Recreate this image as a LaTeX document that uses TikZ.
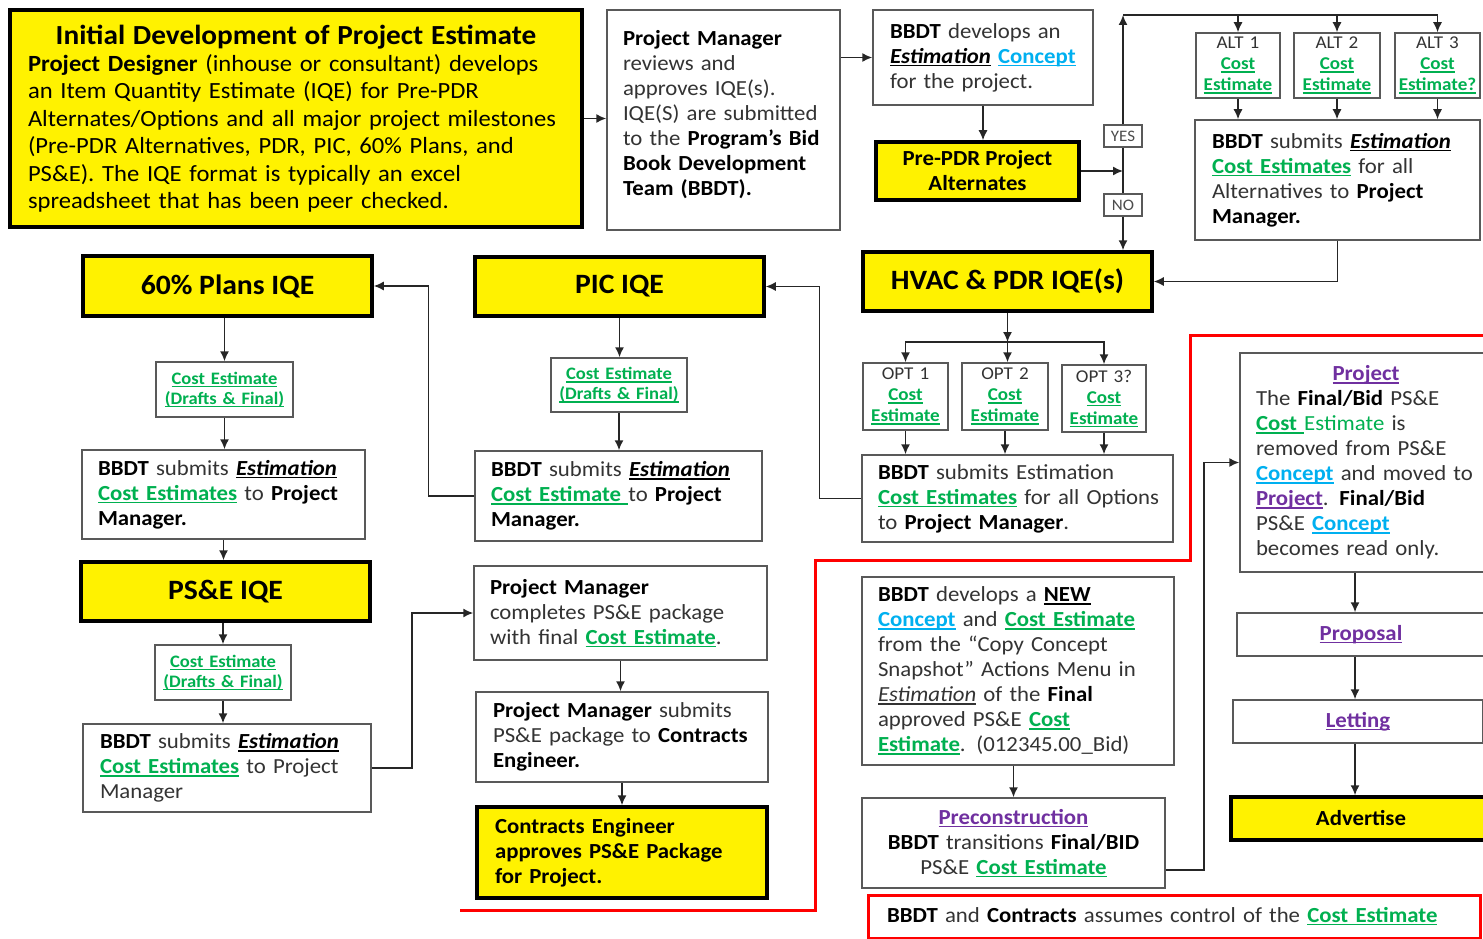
\documentclass[tikz,border=0pt]{standalone}
\usepackage{fontspec}
\setmainfont[FakeStretch=1.06]{Carlito}
\usepackage{tikz}
\usetikzlibrary{arrows.meta, positioning, calc}

\definecolor{linkgreen}{RGB}{0,176,80}
\definecolor{linkblue}{RGB}{0,176,240}
\definecolor{linkpurple}{RGB}{112,48,160}

% underline at a fixed depth
\newcommand{\ulx}[1]{\leavevmode\setbox0=\hbox{#1}\rlap{\rule[-2.8pt]{\wd0}{1.3pt}}\box0}
\newcommand{\bb}[1]{{\color{black}\bfseries #1}}
\newcommand{\cest}[1]{{\color{linkgreen}\bfseries\ulx{#1}}}
\newcommand{\ccon}[1]{{\color{linkblue}\bfseries\ulx{#1}}}
\newcommand{\cpur}[1]{{\color{linkpurple}\bfseries\ulx{#1}}}
\newcommand{\estim}{{\color{black}\bfseries\itshape\ulx{Estimation}}}

\tikzset{
    pbox/.style={draw=black!65, line width=1.5pt, fill=white, align=left,
        inner ysep=0pt, inner xsep=16pt, text=black!80,
        font=\fontsize{21.5}{25}\selectfont},
    ybox/.style={draw=black, line width=3.5pt, fill=yellow, align=center,
        inner sep=0pt, text=black, font=\bfseries\fontsize{28}{31}\selectfont},
    cebox/.style={pbox, align=center, inner xsep=2pt,
        font=\fontsize{17.5}{20}\selectfont},
    optbox/.style={pbox, align=center, inner xsep=1pt,
        font=\fontsize{18}{21}\selectfont},
    flag/.style={draw=black!65, line width=1.2pt, fill=white, text=black!70,
        font=\fontsize{16}{17}\selectfont, inner sep=1pt,
        minimum width=38pt, minimum height=22pt},
    link/.style={->, line width=1.5pt, draw=black!85},
    plain/.style={line width=1.5pt, draw=black!85},
    redline/.style={draw=red, line width=3pt}
}

\begin{document}
\begin{tikzpicture}[x=1pt, y=-1pt, >={Latex[length=10pt,width=9pt]}]
\useasboundingbox (0,0) rectangle (1483,939);
\clip (0,0) rectangle (1483,939);

% Top row
\node[ybox, align=left, text width=536pt, minimum height=217pt, inner xsep=18pt,
    font=\fontsize{23.2}{27.4}\selectfont] (init) at (296,118.5)
    {\makebox[\hsize][c]{\fontsize{27.6}{29}\selectfont\bfseries Initial Development of Project Estimate}\\
     \textbf{Project Designer} (inhouse or consultant) develops\\
     an Item Quantity Estimate (IQE) for Pre-PDR\\
     Alternates/Options and all major project milestones\\
     (Pre-PDR Alternatives, PDR, PIC, 60\% Plans, and\\
     PS\&E). The IQE format is typically an excel\\
     spreadsheet that has been peer checked.};

\node[pbox, text width=201pt, minimum height=220pt] (review) at (723.5,120)
    {\bb{Project Manager}\\
     reviews and\\
     approves IQE(s).\\
     IQE(S) are submitted\\
     to the \bb{Program’s Bid}\\
     \bb{Book Development}\\
     \bb{Team (BBDT).}\rule[-15pt]{0pt}{0pt}};

\node[pbox, text width=186pt, minimum height=95pt, inner xsep=17pt] (concept) at (983,57.5)
    {\bb{BBDT} develops an\\
     \estim\ \ccon{Concept}\\
     for the project.};

\node[ybox, minimum width=203pt, minimum height=58pt,
    font=\bfseries\fontsize{21.5}{25}\selectfont] (prepdr) at (977.5,171)
    {Pre-PDR Project\\Alternates};

% Yes / no branch
\coordinate (jn) at (1123,171);
\coordinate (top) at (1123,15);
\node[flag] (yes) at (1123,136) {YES};
\node[flag] (no) at (1123,205) {NO};

% Alternates
\node[optbox, text width=82pt, minimum height=65pt] (alt1) at (1238,65.5)
    {ALT 1\\\cest{Cost}\\\cest{Estimate}};
\node[optbox, text width=84pt, minimum height=65pt] (alt2) at (1337,65.5)
    {ALT 2\\\cest{Cost}\\\cest{Estimate}};
\node[optbox, text width=83pt, minimum height=65pt] (alt3) at (1437.5,65.5)
    {ALT 3\\\cest{Cost}\\\cest{Estimate?}};

\node[pbox, text width=251pt, minimum height=120pt, inner xsep=17pt] (altsub) at (1337.5,180)
    {\bb{BBDT} submits \estim\\
     \cest{Cost Estimates} for all\\
     Alternatives to \bb{Project}\\
     \bb{Manager.}};

% HVAC and options
\node[ybox, minimum width=289pt, minimum height=59pt] (hvac) at (1007.5,281.5)
    {HVAC \& PDR IQE(s)};
\coordinate (obar) at (1007.5,342);

\node[optbox, text width=83pt, minimum height=67pt] (opt1) at (905.5,396.5)
    {OPT 1\\\cest{Cost}\\\cest{Estimate}};
\node[optbox, text width=84pt, minimum height=67pt] (opt2) at (1005,396.5)
    {OPT 2\\\cest{Cost}\\\cest{Estimate}};
\node[optbox, text width=82pt, minimum height=67pt] (opt3) at (1104,398.5)
    {OPT 3?\\\cest{Cost}\\\cest{Estimate}};

\node[pbox, text width=279pt, minimum height=87pt] (optsub) at (1017.5,498.5)
    {\bb{BBDT} submits Estimation\\
     \mbox{\cest{Cost Estimates} for all Options}\\
     to \bb{Project Manager}.};

% PIC column
\node[ybox, minimum width=289pt, minimum height=59pt] (pic) at (619.5,286.5) {PIC IQE};
\node[cebox, text width=132pt, minimum height=54pt] (picce) at (619,385)
    {\cest{Cost Estimate}\\\cest{(Drafts \& Final)}};
\node[pbox, text width=255pt, minimum height=90pt] (picsub) at (618.5,496)
    {\bb{BBDT} submits \estim\\
     \cest{Cost Estimate\ }to \bb{Project}\\
     \bb{Manager.}};

% 60% plans column
\node[ybox, minimum width=289pt, minimum height=60pt] (plans) at (227.5,286) {60\% Plans IQE};
\node[cebox, text width=133pt, minimum height=55pt] (plansce) at (224.5,389.5)
    {\cest{Cost Estimate}\\\cest{(Drafts \& Final)}};
\node[pbox, text width=251pt, minimum height=89pt] (plansub) at (223.5,494.5)
    {\bb{BBDT} submits \estim\\
     \cest{Cost Estimates} to \bb{Project}\\
     \bb{Manager.}};

% PS&E column
\node[ybox, minimum width=289pt, minimum height=59pt] (pse) at (225.5,591.5) {PS\&E IQE};
\node[cebox, text width=132pt, minimum height=55pt] (psece) at (223,672.5)
    {\cest{Cost Estimate}\\\cest{(Drafts \& Final)}};
\node[pbox, text width=254pt, minimum height=88pt, inner xsep=17pt] (psesub) at (227,768)
    {\bb{BBDT} submits \estim\\
     \cest{Cost Estimates} to Project\\
     Manager};

% Package to contracts
\node[pbox, text width=261pt, minimum height=94pt] (pmfinal) at (620.5,613)
    {\bb{Project Manager}\\
     completes PS\&E package\\
     with final \cest{Cost Estimate}.};
\node[pbox, text width=258pt, minimum height=90pt, inner xsep=17pt] (pmsubmit) at (622,737)
    {\bb{Project Manager} submits\\
     PS\&E package to \bb{Contracts}\\
     \bb{Engineer.}};
\node[ybox, align=left, text width=254pt, minimum height=91pt, inner xsep=18pt,
    font=\bfseries\fontsize{21.5}{25}\selectfont] (contracts) at (622,852.5)
    {Contracts Engineer\\
     approves PS\&E Package\\
     for Project.};

% Preconstruction
\node[pbox, text width=280pt, minimum height=188pt] (newcon) at (1018,671)
    {\bb{BBDT} develops a \bb{\ulx{NEW}}\\
     \ccon{Concept} and \cest{Cost Estimate}\\
     from the “Copy Concept\\
     Snapshot” Actions Menu in\\
     {\itshape\ulx{Estimation}} of the \bb{Final}\\
     approved PS\&E \cest{Cost}\\
     \cest{Estimate}. (012345.00\_Bid)};
\node[pbox, align=center, text width=271pt, minimum height=90pt] (precon) at (1013.5,843)
    {\cpur{Preconstruction}\\
     \bb{BBDT} transitions \bb{Final/BID}\\
     PS\&E \cest{Cost Estimate}};

% Right column
\node[pbox, text width=220pt, minimum height=219pt] (project) at (1366,462.5)
    {\makebox[\hsize][c]{\cpur{Project}}\\
     The \bb{Final/Bid} PS\&E\\
     \cest{Cost\ }{\color{linkgreen}Estimate} is\\
     removed from PS\&E\\
     \ccon{Concept} and moved to\\
     \cpur{Project}. \bb{Final/Bid}\\
     PS\&E \ccon{Concept}\\
     becomes read only.};
\node[pbox, align=center, minimum width=248pt, minimum height=43pt] (proposal) at (1361,634.5)
    {\cpur{Proposal}};
\node[pbox, align=center, minimum width=250pt, minimum height=43pt] (letting) at (1358,721.5)
    {\cpur{Letting}};
\node[ybox, minimum width=260pt, minimum height=43pt,
    font=\bfseries\fontsize{21.5}{25}\selectfont] (advert) at (1361,818.5) {Advertise};
\coordinate (rcol) at (1355,0);

\node[pbox, draw=red, line width=3pt, text width=574pt, minimum height=43pt, inner xsep=19pt] (control)
    at (1174,916.5)
    {\bb{BBDT} and \bb{Contracts} assumes control of the \cest{Cost Estimate}};

% Connectors
\draw[link] (init.east) -- (init.east -| review.west);
\draw[link] (concept.west -| review.east) -- (concept.west);
\draw[link] (concept.south) -- (concept.south |- prepdr.north);
\draw[link] (prepdr.east) -- (jn);
\draw[link] (jn) -- (yes) -- (top);
\draw[link] (jn) -- (no) -- (hvac.north -| jn);
\draw[plain] (top) -- (top -| alt3.north);
\draw[link] (top -| alt1.north) -- (alt1.north);
\draw[link] (top -| alt2.north) -- (alt2.north);
\draw[link] (top -| alt3.north) -- (alt3.north);
\draw[link] (alt1.south) -- (alt1.south |- altsub.north);
\draw[link] (alt2.south) -- (alt2.south |- altsub.north);
\draw[link] (alt3.south) -- (alt3.south |- altsub.north);
\draw[link] (altsub.south) |- (hvac.east);

\draw[link] (hvac.south) -- (obar);
\draw[link] (obar) -| (opt1.north);
\draw[link] (obar) -| (opt3.north);
\draw[link] (obar) -- (obar |- opt2.north);
\draw[link] (opt1.south) -- (opt1.south |- optsub.north);
\draw[link] (opt2.south) -- (opt2.south |- optsub.north);
\draw[link] (opt3.south) -- (opt3.south |- optsub.north);
\draw[link] (optsub.west) -- ++(-42,0) |- (pic.east);

\draw[link] (pic.south) -- (pic.south |- picce.north);
\draw[link] (picce.south) -- (picce.south |- picsub.north);
\draw[link] (picsub.west) -- ++(-46,0) |- (plans.east);

\draw[link] (plans.south -| plansce.north) -- (plansce.north);
\draw[link] (plansce.south) -- (plansce.south |- plansub.north);
\draw[link] (plansub.south) -- (plansub.south |- pse.north);
\draw[link] (pse.south -| psece.north) -- (psece.north);
\draw[link] (psece.south) -- (psece.south |- psesub.north);
\draw[link] (psesub.east) -- ++(40,0) |- (pmfinal.west);

\draw[link] (pmfinal.south) -- (pmfinal.south |- pmsubmit.north);
\draw[link] (pmsubmit.south) -- (pmsubmit.south |- contracts.north);

\draw[link] (newcon.south -| precon.north) -- (precon.north);
\draw[link] ([yshift=-27pt]precon.east) -- ++(38,0) |- (project.west);
\draw[link] (project.south -| rcol) -- (proposal.north -| rcol);
\draw[link] (proposal.south -| rcol) -- (letting.north -| rcol);
\draw[link] (letting.south -| rcol) -- (advert.north -| rcol);

% Red boundary
\draw[redline] (460,910) -- (815,910) -- (815,560) -- (1190,560) -- (1190,335) -- (1490,335);

\end{tikzpicture}
\end{document}
